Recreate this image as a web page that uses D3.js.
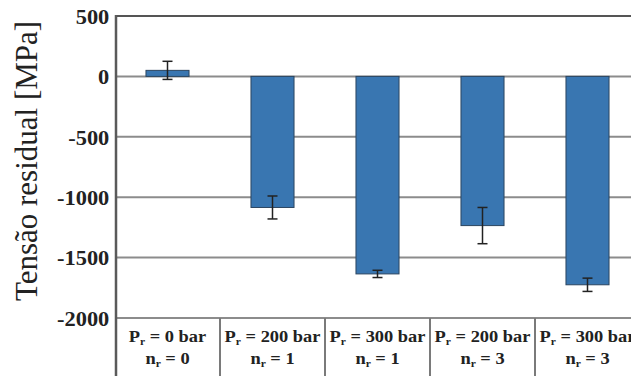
<!DOCTYPE html>
<html>
<head>
<meta charset="utf-8">
<script src="https://cdn.jsdelivr.net/npm/d3@7"></script>
<style>
  body { margin: 0; background: #fff; }
  svg { display: block; }
  text { font-family: 'Liberation Serif', serif; }
</style>
</head>
<body>
<div id="chart"></div>
<script>
var width = 631,
	height = 376;
var margin = {
	left: 116,
	top: 16,
	bottom: 318
};

// categories: pressure and number of passes
var pressure = ['0', '200', '300', '200', '300'];
var passes = ['0', '1', '1', '3', '3'];
// mean residual stress and error
var stress = [50, -1085, -1635, -1235, -1725];
var stressErr = [75, 95, 30, 150, 55];
var yTicks = [500, 0, -500, -1000, -1500, -2000];

var cats = pressure.map((d, i) => i);
var data = cats.map(i => ({
	i: i,
	p: pressure[i],
	n: passes[i],
	v: stress[i],
	e: stressErr[i]
}));

var svg = d3.select('#chart').append('svg')
	.attr('width', width)
	.attr('height', height);

var xScale = d3.scaleBand()
	.domain(cats)
	.range([margin.left - 1, margin.left - 1 + 105 * 5]);

var yScale = d3.scaleLinear()
	.domain([-2000, 500])
	.range([margin.bottom, margin.top]);

var bw = xScale.bandwidth() * 0.41;

// gridlines
svg.append('g')
	.selectAll('line')
	.data(yTicks)
	.enter()
	.append('line')
	.attr('x1', margin.left)
	.attr('x2', width)
	.attr('y1', d => yScale(d))
	.attr('y2', d => yScale(d))
	.attr('stroke', d => d == 500 ? '#555' : '#8c8c8c')
	.attr('stroke-width', 2);

// y axis labels
var yAxis = d3.axisLeft(yScale)
	.tickValues(yTicks)
	.tickFormat(d => String(d))
	.tickSize(0)
	.tickPadding(6);
var gy = svg.append('g')
	.attr('transform', 'translate(' + margin.left + ',0)')
	.call(yAxis)
	.attr('font-family', null)
	.attr('font-size', null);
gy.select('.domain').remove();
gy.selectAll('text')
	.style('font-weight', 'bold')
	.style('font-size', '20px')
	.attr('fill', '#222')
	.attr('dy', '0.36em')
	.attr('transform', 'scale(1.12,1)');

// bars
svg.append('g')
	.selectAll('rect')
	.data(data)
	.enter()
	.append('rect')
	.attr('x', d => xScale(d.i) + xScale.bandwidth() / 2 - bw / 2)
	.attr('y', d => yScale(Math.max(0, d.v)))
	.attr('width', bw)
	.attr('height', d => Math.abs(yScale(d.v) - yScale(0)))
	.attr('fill', '#3976b1')
	.attr('stroke', '#2b4560')
	.attr('stroke-width', 1);

// error bars
var err = svg.append('g')
	.selectAll('g')
	.data(data)
	.enter()
	.append('g')
	.attr('stroke', '#222')
	.attr('stroke-width', 1.5);
err.append('line')
	.attr('x1', d => xScale(d.i) + xScale.bandwidth() / 2)
	.attr('x2', d => xScale(d.i) + xScale.bandwidth() / 2)
	.attr('y1', d => yScale(d.v + d.e))
	.attr('y2', d => yScale(d.v - d.e));
err.selectAll('.cap')
	.data(d => [{ d: d, v: d.v + d.e }, { d: d, v: d.v - d.e }])
	.enter()
	.append('line')
	.attr('x1', c => xScale(c.d.i) + xScale.bandwidth() / 2 - 5)
	.attr('x2', c => xScale(c.d.i) + xScale.bandwidth() / 2 + 5)
	.attr('y1', c => yScale(c.v))
	.attr('y2', c => yScale(c.v));

// category table dividers
svg.append('g')
	.selectAll('line')
	.data(cats.slice(1))
	.enter()
	.append('line')
	.attr('x1', d => xScale(d))
	.attr('x2', d => xScale(d))
	.attr('y1', margin.bottom)
	.attr('y2', height)
	.attr('stroke', '#7a7a7a')
	.attr('stroke-width', 2);

// left axis line
svg.append('line')
	.attr('x1', margin.left)
	.attr('x2', margin.left)
	.attr('y1', margin.top - 1)
	.attr('y2', height)
	.attr('stroke', '#5a5a5a')
	.attr('stroke-width', 2.5);

// category labels
var labels = svg.append('g')
	.selectAll('g')
	.data(data)
	.enter()
	.append('g')
	.attr('transform', d => 'translate(' + (xScale(d.i) + xScale.bandwidth() / 2) + ',0) scale(1.15,1)')
	.style('font-weight', 'bold')
	.style('font-size', '16px')
	.attr('fill', '#222')
	.attr('text-anchor', 'middle');

var l1 = labels.append('text')
	.attr('y', 342);
l1.append('tspan').text('P');
l1.append('tspan').style('font-size', '10px').attr('dy', 3).text('r');
l1.append('tspan').attr('dy', -3).text(d => ' = ' + d.p + ' bar');

var l2 = labels.append('text')
	.attr('y', 364);
l2.append('tspan').text('n');
l2.append('tspan').style('font-size', '10px').attr('dy', 3).text('r');
l2.append('tspan').attr('dy', -3).text(d => ' = ' + d.n);

// y title
svg.append('text')
	.attr('transform', 'translate(37,161) rotate(-90)')
	.attr('text-anchor', 'middle')
	.style('font-size', '31px')
	.attr('fill', '#222')
	.text('Tensão residual [MPa]');
</script>
</body>
</html>
